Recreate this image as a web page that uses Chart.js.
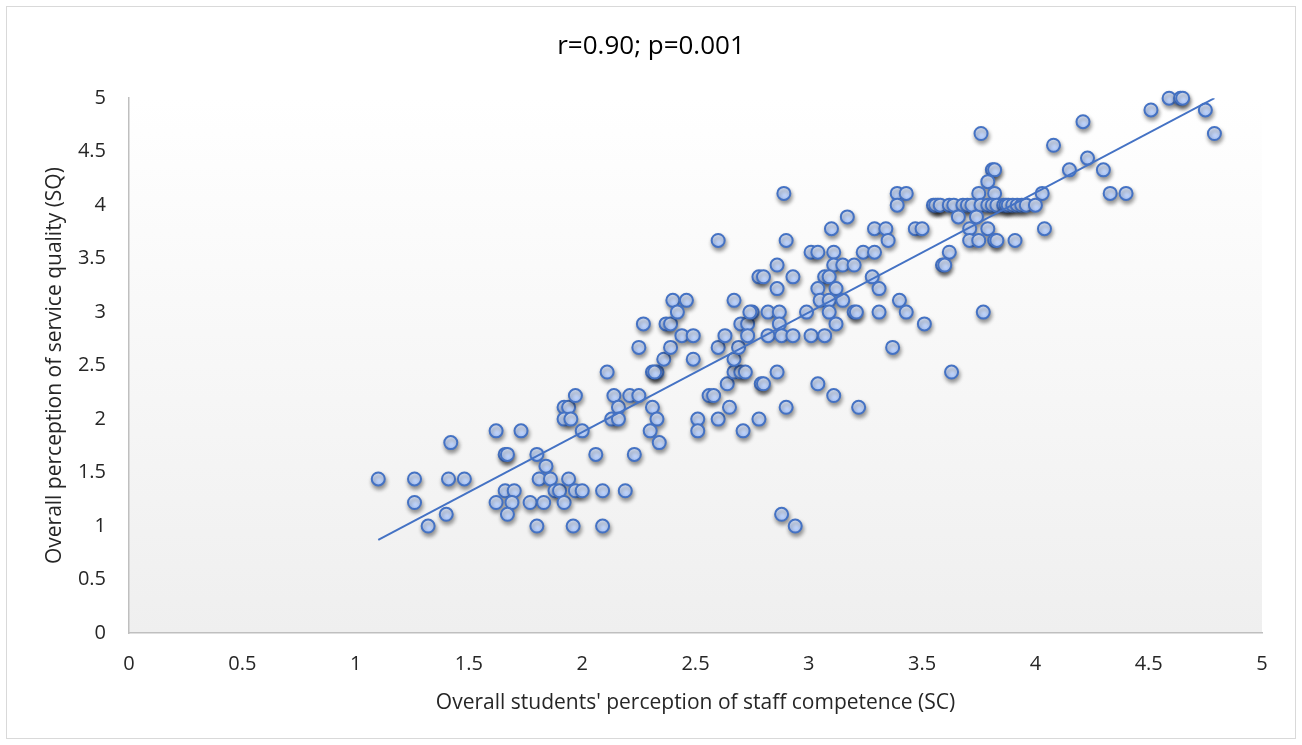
<!DOCTYPE html>
<html>
<head>
<meta charset="utf-8">
<script src="https://cdn.jsdelivr.net/npm/chart.js@4/dist/chart.umd.min.js"></script>
<style>
  html, body { margin: 0; padding: 0; background: #fff; }
  #wrap { width: 1302px; height: 745px; position: relative; }
</style>
</head>
<body>
<div id="wrap"><canvas id="chart"></canvas></div>
<script>
// staff competence (x) and service quality (y)
const staffCompetence = [
  1.10, 1.26, 1.26, 1.32, 1.40, 1.42, 1.41, 1.48, 1.62, 1.73,
  1.66, 1.67, 1.66, 1.70, 1.62, 1.69, 1.67, 1.80, 1.84, 1.81,
  1.86, 1.88, 1.90, 1.77, 1.83, 1.80, 1.92, 1.94, 1.92, 1.94,
  1.92, 1.95, 1.97, 2.00, 1.97, 2.00, 1.96, 2.09, 2.09, 2.06,
  2.11, 2.14, 2.16, 2.13, 2.16, 2.19, 2.23, 2.21, 2.25, 2.25,
  2.27, 2.31, 2.33, 2.30, 2.34, 2.31, 2.33, 2.32, 2.36, 2.37,
  2.39, 2.39, 2.40, 2.46, 2.42, 2.44, 2.49, 2.49, 2.60, 2.56,
  2.58, 2.51, 2.51, 2.60, 2.65, 2.71, 2.78, 2.64, 2.67, 2.70,
  2.72, 2.67, 2.69, 2.60, 2.63, 2.67, 2.70, 2.73, 2.75, 2.73,
  2.78, 2.89, 3.17, 3.10, 2.90, 3.01, 3.04, 3.11, 3.24, 3.29,
  3.29, 3.34, 3.35, 3.39, 3.43, 3.39, 3.47, 3.50, 3.57, 2.86,
  2.80, 2.93, 2.86, 3.11, 3.15, 3.20, 3.07, 3.09, 3.04, 3.12,
  3.05, 3.09, 3.15, 3.28, 3.31, 3.40, 3.43, 3.31, 3.20, 3.21,
  3.09, 2.99, 3.12, 3.51, 3.37, 2.74, 2.82, 2.87, 2.87, 2.82,
  2.88, 2.93, 3.01, 3.07, 2.86, 2.79, 2.80, 3.04, 3.11, 2.90,
  3.22, 2.88, 2.94, 3.76, 4.08, 3.81, 3.82, 3.79, 3.75, 3.82,
  4.03, 3.55, 3.56, 3.58, 3.62, 3.64, 3.68, 3.70, 3.72, 3.76,
  3.79, 3.81, 3.83, 3.86, 3.87, 3.88, 3.90, 3.92, 3.94, 3.96,
  4.00, 3.66, 3.74, 3.71, 3.79, 3.71, 3.75, 3.82, 3.83, 3.91,
  4.04, 3.62, 3.59, 3.60, 3.77, 3.63, 4.21, 4.23, 4.15, 4.30,
  4.33, 4.40, 4.51, 4.59, 4.64, 4.65, 4.75, 4.79
];
const serviceQuality = [
  1.44, 1.44, 1.22, 1.00, 1.11, 1.78, 1.44, 1.44, 1.89, 1.89,
  1.67, 1.67, 1.33, 1.33, 1.22, 1.22, 1.11, 1.67, 1.56, 1.44,
  1.44, 1.33, 1.33, 1.22, 1.22, 1.00, 1.22, 1.44, 2.11, 2.11,
  2.00, 2.00, 2.22, 1.89, 1.33, 1.33, 1.00, 1.00, 1.33, 1.67,
  2.44, 2.22, 2.11, 2.00, 2.00, 1.33, 1.67, 2.22, 2.22, 2.67,
  2.89, 2.11, 2.00, 1.89, 1.78, 2.44, 2.44, 2.44, 2.56, 2.89,
  2.89, 2.67, 3.11, 3.11, 3.00, 2.78, 2.78, 2.56, 3.67, 2.22,
  2.22, 2.00, 1.89, 2.00, 2.11, 1.89, 2.00, 2.33, 2.44, 2.44,
  2.44, 2.56, 2.67, 2.67, 2.78, 3.11, 2.89, 2.89, 3.00, 2.78,
  3.33, 4.11, 3.89, 3.78, 3.67, 3.56, 3.56, 3.56, 3.56, 3.56,
  3.78, 3.78, 3.67, 4.11, 4.11, 4.00, 3.78, 3.78, 4.00, 3.44,
  3.33, 3.33, 3.22, 3.44, 3.44, 3.44, 3.33, 3.33, 3.22, 3.22,
  3.11, 3.11, 3.11, 3.33, 3.22, 3.11, 3.00, 3.00, 3.00, 3.00,
  3.00, 3.00, 2.89, 2.89, 2.67, 3.00, 3.00, 3.00, 2.89, 2.78,
  2.78, 2.78, 2.78, 2.78, 2.44, 2.33, 2.33, 2.33, 2.22, 2.11,
  2.11, 1.11, 1.00, 4.67, 4.56, 4.33, 4.33, 4.22, 4.11, 4.11,
  4.11, 4.00, 4.00, 4.00, 4.00, 4.00, 4.00, 4.00, 4.00, 4.00,
  4.00, 4.00, 4.00, 4.00, 4.00, 4.00, 4.00, 4.00, 4.00, 4.00,
  4.00, 3.89, 3.89, 3.78, 3.78, 3.67, 3.67, 3.67, 3.67, 3.67,
  3.78, 3.56, 3.44, 3.44, 3.00, 2.44, 4.78, 4.44, 4.33, 4.33,
  4.11, 4.11, 4.89, 5.00, 5.00, 5.00, 4.89, 4.67
];

// trend line ends as drawn in the picture
const trendX = [1.10, 4.79];
const trendY = [0.87, 5.00];

const titleText = 'r=0.90; p=0.001';
const xTitle = "Overall students' perception of staff competence (SC)";
const yTitle = 'Overall perception of service quality (SQ)';
const axisMin = 0, axisMax = 5, axisStep = 0.5;

const points = staffCompetence.map((x, i) => ({ x: x, y: serviceQuality[i] }));
const trend = trendX.map((x, i) => ({ x: x, y: trendY[i] }));

const FONT = '"Open Sans", sans-serif';
const TEXT = '#262626';

// white page, frame and grey gradient behind the plot
const backdrop = {
  id: 'backdrop',
  beforeDraw(chart) {
    const { ctx, chartArea: a } = chart;
    ctx.save();
    ctx.fillStyle = '#fff';
    ctx.fillRect(0, 0, chart.width, chart.height);
    ctx.strokeStyle = '#d9d9d9';
    ctx.lineWidth = 1;
    ctx.strokeRect(6.5, 6.5, chart.width - 13, chart.height - 13);
    const g = ctx.createLinearGradient(0, a.top, 0, a.bottom);
    g.addColorStop(0, '#ffffff');
    g.addColorStop(1, '#efefef');
    ctx.fillStyle = g;
    ctx.fillRect(a.left, a.top, a.right - a.left, a.bottom - a.top);
    ctx.restore();
  }
};

// soft drop shadow under the markers
const markerShadow = {
  id: 'markerShadow',
  beforeDatasetDraw(chart, args) {
    if (args.index !== 1) return;
    const ctx = chart.ctx;
    ctx.save();
    ctx.shadowColor = 'rgba(0,0,0,0.4)';
    ctx.shadowBlur = 4;
    ctx.shadowOffsetX = 1;
    ctx.shadowOffsetY = 3;
  },
  afterDatasetDraw(chart, args) {
    if (args.index !== 1) return;
    chart.ctx.restore();
  }
};

const markerFill = (c) => {
  const chart = c.chart;
  if (c.type !== 'data' || !chart.chartArea) return '#c2d6fc';
  const py = chart.scales.y.getPixelForValue(c.parsed.y);
  const g = chart.ctx.createLinearGradient(0, py - 7, 0, py + 7);
  g.addColorStop(0, '#e8f0ff');
  g.addColorStop(1, '#a9c5fa');
  return g;
};

const tickLabel = (v) => String(+v.toFixed(1));

new Chart(document.getElementById('chart'), {
  type: 'scatter',
  data: {
    datasets: [
      {
        type: 'line',
        label: 'Trend',
        data: trend,
        borderColor: '#4472c4',
        borderWidth: 2,
        pointRadius: 0,
        fill: false,
        order: 0
      },
      {
        label: 'SQ vs SC',
        data: points,
        backgroundColor: markerFill,
        borderColor: '#4472c4',
        borderWidth: 2,
        pointRadius: 6.5,
        clip: false,
        order: 1
      }
    ]
  },
  plugins: [backdrop, markerShadow],
  options: {
    responsive: true,
    maintainAspectRatio: false,
    animation: false,
    layout: { padding: 0 },
    plugins: {
      legend: { display: false },
      tooltip: { enabled: false },
      title: {
        display: true,
        text: titleText,
        color: '#000',
        font: { family: FONT, size: 26, weight: 'normal', lineHeight: 1.2 },
        padding: { top: 31, bottom: 36 }
      }
    },
    scales: {
      x: {
        type: 'linear',
        min: axisMin,
        max: axisMax,
        afterFit: (s) => { s.height = 112; },
        ticks: { stepSize: axisStep, color: TEXT, padding: 19, callback: tickLabel, font: { family: FONT, size: 20 } },
        grid: { display: false, drawTicks: false },
        border: { display: true, color: '#bfbfbf', width: 1.5 },
        title: {
          display: true,
          text: xTitle,
          color: TEXT,
          font: { family: FONT, size: 21 },
          padding: { top: 0, bottom: 29 }
        }
      },
      y: {
        type: 'linear',
        min: axisMin,
        max: axisMax,
        afterFit: (s) => { s.width = 129; },
        ticks: { stepSize: axisStep, color: TEXT, padding: 23, callback: tickLabel, font: { family: FONT, size: 20 } },
        grid: { display: false, drawTicks: false },
        border: { display: true, color: '#bfbfbf', width: 1.5 },
        title: {
          display: true,
          text: yTitle,
          color: TEXT,
          font: { family: FONT, size: 21 },
          padding: { top: 42, bottom: 0 }
        }
      },
      // empty strip on the right so the plot ends where the original does
      yRight: {
        type: 'linear',
        position: 'right',
        min: axisMin,
        max: axisMax,
        afterFit: (s) => { s.width = 40; },
        ticks: { display: false },
        grid: { display: false, drawTicks: false },
        border: { display: false }
      }
    }
  }
});
</script>
</body>
</html>
